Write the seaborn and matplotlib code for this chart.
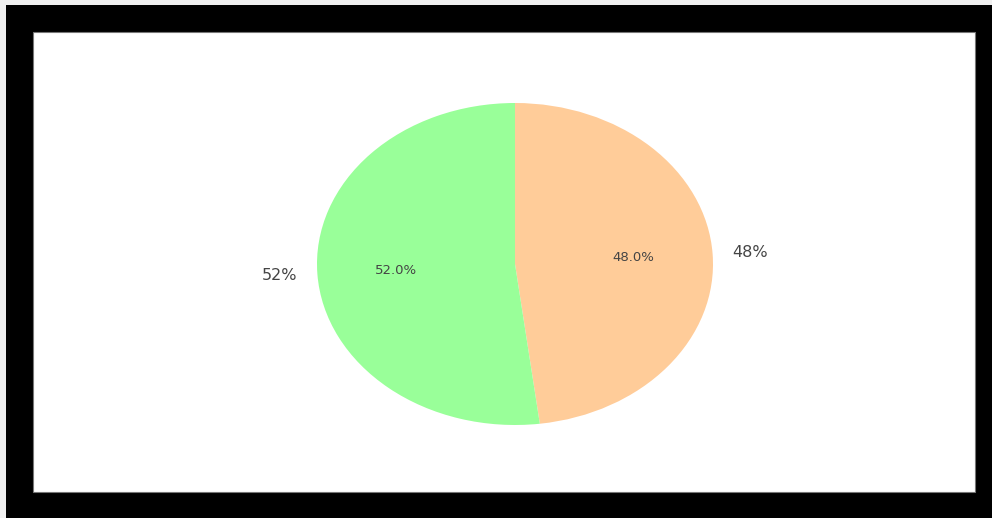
import matplotlib
matplotlib.use('Agg')
import matplotlib.pyplot as plt
import seaborn as sns
from matplotlib.patches import Rectangle

sns.set_theme(style='white')
plt.rcParams['font.family'] = ['DejaVu Sans']

# data
labels = ['48%', '52%']
shares = [48.0, 52.0]
colors = ['#ffcc99', '#99ff99']

W, H = 992, 518
fig = plt.figure(figsize=(W / 100, H / 100), dpi=100)
fig.patch.set_facecolor('#f0f0f0')

# black frame with white canvas inside (behind the axes)
fig.patches.append(Rectangle((6 / W, 0), 1 - 6 / W, (H - 5) / H,
                             transform=fig.transFigure, facecolor='black',
                             edgecolor='none', zorder=-2))
fig.patches.append(Rectangle((33 / W, (H - 492) / H), (975 - 33) / W, (492 - 32) / H,
                             transform=fig.transFigure, facecolor='white',
                             edgecolor='#777777', linewidth=0.8, zorder=-1))

# pie axes (stretched, not equal aspect)
cx, cy, rx, ry = 515, 264, 198, 161
ax = fig.add_axes([(cx - 1.25 * rx) / W, (H - cy - 1.25 * ry) / H,
                   2.5 * rx / W, 2.5 * ry / H])
ax.set_zorder(2)
ax.patch.set_alpha(0)

wedges, texts, autotexts = ax.pie(shares, labels=labels, colors=colors,
                                  autopct='%1.1f%%', startangle=90,
                                  counterclock=False, labeldistance=1.1,
                                  pctdistance=0.6,
                                  wedgeprops={'linewidth': 0},
                                  textprops={'color': '#444444'})
for t in texts:
    t.set_fontsize(11.5)
for t in autotexts:
    t.set_fontsize(9.5)
ax.set_aspect('auto')
ax.set_xlim(-1.25, 1.25)
ax.set_ylim(-1.25, 1.25)

fig.savefig('out.png', dpi=100, facecolor=fig.get_facecolor())
